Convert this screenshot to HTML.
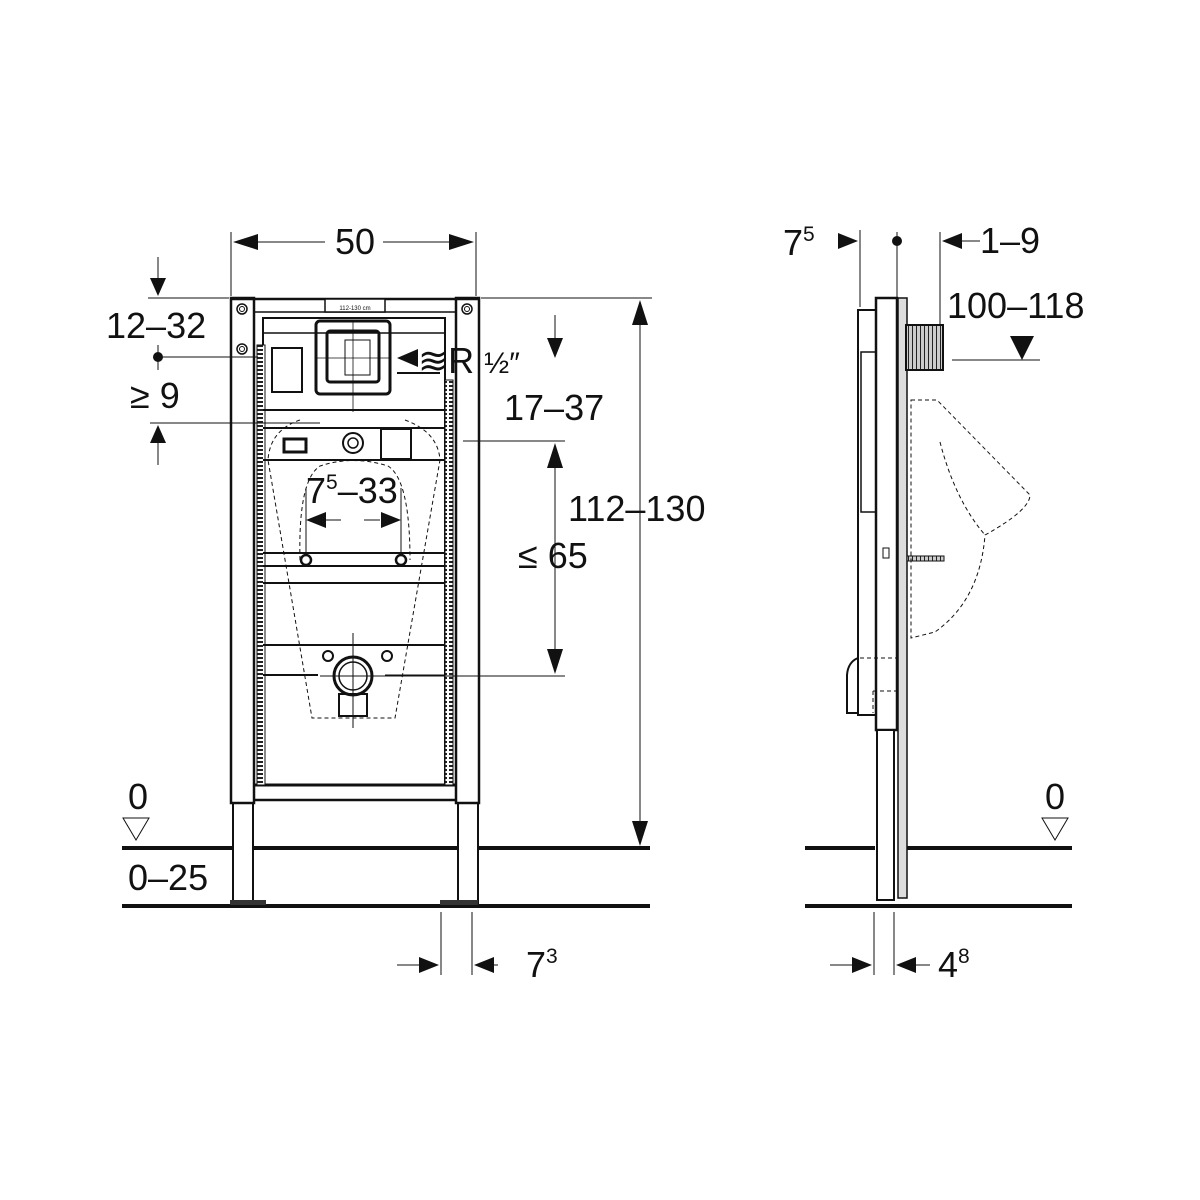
<!DOCTYPE html>
<html><head><meta charset="utf-8"><style>
html,body{margin:0;padding:0;background:#fff}
svg{display:block}
text{font-family:"Liberation Sans",sans-serif;fill:#111}
</style></head><body>
<svg width="1200" height="1200" viewBox="0 0 1200 1200" xmlns="http://www.w3.org/2000/svg">
<defs>
<pattern id="rack" width="8" height="4" patternUnits="userSpaceOnUse"><rect width="8" height="4" fill="#fff"/><rect x="1" y="1" width="6" height="2" fill="#222"/></pattern>
<pattern id="pipe" width="4" height="8" patternUnits="userSpaceOnUse"><rect width="4" height="8" fill="#ccc"/><line x1="0.5" y1="0" x2="0.5" y2="8" stroke="#222" stroke-width="1"/></pattern>
</defs>
<g stroke="#111" fill="none">
<line x1="122" y1="848" x2="650" y2="848" stroke-width="4"/>
<line x1="122" y1="906" x2="650" y2="906" stroke-width="4"/>
<rect x="233" y="800" width="20" height="103" fill="#fff" stroke-width="2"/>
<rect x="458" y="800" width="20" height="103" fill="#fff" stroke-width="2"/>
<rect x="230" y="900" width="36" height="5" fill="#333" stroke="none"/>
<rect x="440" y="900" width="38" height="5" fill="#333" stroke="none"/>
<rect x="231" y="298" width="23" height="505" fill="#fff" stroke-width="2.5"/>
<rect x="456" y="298" width="23" height="505" fill="#fff" stroke-width="2.5"/>
<line x1="254" y1="800" x2="456" y2="800" stroke-width="2.5"/>
<line x1="254" y1="312" x2="456" y2="312" stroke-width="1.5"/>
<line x1="231" y1="299" x2="479" y2="299" stroke-width="2.5"/>
<rect x="325" y="299" width="60" height="13" stroke-width="1.5" fill="#fff"/>
<text x="355" y="310" font-size="6" text-anchor="middle" stroke="none">112-130 cm</text>
<circle cx="242" cy="309" r="5" stroke-width="1.5"/><circle cx="242" cy="309" r="2.5" stroke-width="1"/>
<circle cx="467" cy="309" r="5" stroke-width="1.5"/><circle cx="467" cy="309" r="2.5" stroke-width="1"/>
<circle cx="242" cy="349" r="5" stroke-width="1.5"/><circle cx="242" cy="349" r="2.5" stroke-width="1"/>
<rect x="263" y="318" width="182" height="467" stroke-width="2"/>
<line x1="254" y1="785" x2="456" y2="785" stroke-width="3"/>
<rect x="257" y="345" width="8" height="440" fill="url(#rack)" stroke-width="1"/>
<rect x="445" y="380" width="8" height="405" fill="url(#rack)" stroke-width="1"/>
<line x1="263" y1="333" x2="445" y2="333" stroke-width="1.5"/>
<line x1="263" y1="410" x2="445" y2="410" stroke-width="2"/>
<line x1="263" y1="428" x2="445" y2="428" stroke-width="2"/>
<line x1="263" y1="460" x2="445" y2="460" stroke-width="2"/>
<line x1="263" y1="553" x2="445" y2="553" stroke-width="2"/>
<line x1="263" y1="566" x2="445" y2="566" stroke-width="2"/>
<line x1="263" y1="583" x2="445" y2="583" stroke-width="2"/>
<line x1="263" y1="645" x2="445" y2="645" stroke-width="2"/>
<line x1="263" y1="675" x2="318" y2="675" stroke-width="2"/>
<line x1="385" y1="675" x2="445" y2="675" stroke-width="1"/>
<rect x="272" y="348" width="30" height="44" stroke-width="2"/>
<rect x="284" y="439" width="22" height="13" stroke-width="3"/>
<rect x="381" y="429" width="30" height="30" stroke-width="2"/>
<circle cx="353" cy="443" r="10" stroke-width="2"/><circle cx="353" cy="443" r="5" stroke-width="1.5"/>
<rect x="316" y="321" width="74" height="73" rx="4" stroke-width="3"/>
<rect x="327" y="331" width="52" height="51" rx="3" stroke-width="3"/>
<rect x="345" y="340" width="25" height="35" stroke-width="1"/>
<line x1="353" y1="321" x2="353" y2="412" stroke-width="0.8"/>
<line x1="316" y1="358" x2="390" y2="358" stroke-width="0.8"/>
<path d="M300 420 Q270 430 268 460 L312 718 L395 718 L440 460 Q438 432 405 420" stroke-width="1" stroke-dasharray="4 3"/>
<path d="M300 560 Q298 480 320 466 Q353 455 388 466 Q410 480 410 560" stroke-width="1" stroke-dasharray="4 3"/>
<circle cx="306" cy="560" r="5" stroke-width="2.5"/><circle cx="401" cy="560" r="5" stroke-width="2.5"/>
<circle cx="353" cy="676" r="19" stroke-width="3" fill="#fff"/>
<circle cx="353" cy="676" r="14" stroke-width="1.5"/>
<rect x="339" y="694" width="28" height="22" stroke-width="2"/>
<circle cx="328" cy="656" r="5" stroke-width="2"/><circle cx="387" cy="656" r="5" stroke-width="2"/>
<line x1="353" y1="633" x2="353" y2="728" stroke-width="1"/>
<line x1="320" y1="676" x2="565" y2="676" stroke-width="1"/>
<!-- side view -->
<line x1="805" y1="848" x2="875" y2="848" stroke-width="4"/>
<line x1="905" y1="848" x2="1072" y2="848" stroke-width="4"/>
<line x1="805" y1="906" x2="1072" y2="906" stroke-width="4"/>
<rect x="858" y="310" width="18" height="405" stroke-width="2"/>
<rect x="861" y="352" width="15" height="160" stroke-width="1.5"/>
<rect x="876" y="298" width="21" height="432" fill="#fff" stroke-width="2.5"/>
<rect x="877" y="730" width="17" height="170" fill="#fff" stroke-width="2"/>
<rect x="898" y="298" width="9" height="600" fill="#ddd" stroke-width="1.5"/>
<rect x="906" y="325" width="37" height="45" fill="url(#pipe)" stroke-width="2"/>
<rect x="907" y="556" width="37" height="5" fill="url(#pipe)" stroke-width="1"/>
<rect x="883" y="548" width="6" height="10" stroke-width="1"/>
<path d="M858 658 Q848 662 847 675 L847 713 L858 713" stroke-width="2"/>
<path d="M860 658 L897 658 M873 691 L897 691 M873 691 L873 713" stroke-width="1" stroke-dasharray="4 3"/>
<path d="M911 400 L937 400 L1030 495 Q1030 510 985 535 Q980 600 935 632 L911 638 Z" stroke-width="1" stroke-dasharray="4 3"/>
<path d="M940 442 Q955 500 985 535" stroke-width="1" stroke-dasharray="4 3"/>
<!-- dims front -->
<line x1="231" y1="232" x2="231" y2="296" stroke-width="1"/>
<line x1="476" y1="232" x2="476" y2="296" stroke-width="1"/>
<line x1="250" y1="242" x2="325" y2="242" stroke-width="1"/>
<line x1="383" y1="242" x2="458" y2="242" stroke-width="1"/>
<line x1="148" y1="298" x2="229" y2="298" stroke-width="1"/>
<line x1="158" y1="257" x2="158" y2="282" stroke-width="1"/>
<line x1="158" y1="357" x2="258" y2="357" stroke-width="1"/>
<line x1="158" y1="345" x2="158" y2="370" stroke-width="1"/>
<line x1="150" y1="423" x2="320" y2="423" stroke-width="1"/>
<line x1="158" y1="440" x2="158" y2="465" stroke-width="1"/>
<line x1="481" y1="298" x2="652" y2="298" stroke-width="1"/>
<line x1="640" y1="320" x2="640" y2="828" stroke-width="1"/>
<line x1="555" y1="315" x2="555" y2="340" stroke-width="1"/>
<line x1="397" y1="373" x2="440" y2="373" stroke-width="2"/>
<line x1="463" y1="441" x2="565" y2="441" stroke-width="1"/>
<line x1="555" y1="462" x2="555" y2="655" stroke-width="1"/>
<line x1="306" y1="488" x2="306" y2="555" stroke-width="1"/>
<line x1="401" y1="488" x2="401" y2="555" stroke-width="1"/>
<line x1="325" y1="520" x2="341" y2="520" stroke-width="1"/>
<line x1="364" y1="520" x2="380" y2="520" stroke-width="1"/>
<line x1="441" y1="912" x2="441" y2="975" stroke-width="1"/>
<line x1="472" y1="912" x2="472" y2="975" stroke-width="1"/>
<line x1="397" y1="965" x2="422" y2="965" stroke-width="1"/>
<line x1="492" y1="965" x2="498" y2="965" stroke-width="1"/>
<!-- side dims -->
<line x1="860" y1="230" x2="860" y2="307" stroke-width="1"/>
<line x1="940" y1="232" x2="940" y2="324" stroke-width="1"/>
<line x1="897" y1="232" x2="897" y2="300" stroke-width="1"/>
<line x1="961" y1="241" x2="980" y2="241" stroke-width="1"/>
<line x1="952" y1="360" x2="1040" y2="360" stroke-width="1"/>
<line x1="874" y1="912" x2="874" y2="975" stroke-width="1"/>
<line x1="894" y1="912" x2="894" y2="975" stroke-width="1"/>
<line x1="830" y1="965" x2="855" y2="965" stroke-width="1"/>
<line x1="915" y1="965" x2="930" y2="965" stroke-width="1"/>
<path d="M123 818 L149 818 L136 840 Z" stroke-width="1"/>
<path d="M1042 818 L1068 818 L1055 840 Z" stroke-width="1"/>
</g>
<g fill="#111" stroke="none">
<path d="M233 242 L258 234 L258 250Z"/><path d="M474 242 L449 234 L449 250Z"/>
<path d="M158 296 L150 278 L166 278Z"/>
<path d="M158 425 L150 443 L166 443Z"/>
<path d="M640 300 L632 325 L648 325Z"/><path d="M640 846 L632 821 L648 821Z"/>
<path d="M555 358 L547 338 L563 338Z"/>
<path d="M555 443 L547 468 L563 468Z"/><path d="M555 674 L547 649 L563 649Z"/>
<path d="M306 520 L326 512 L326 528Z"/><path d="M401 520 L381 512 L381 528Z"/>
<path d="M397 358 L418 349 L418 367Z"/>
<path d="M439 965 L419 957 L419 973Z"/><path d="M474 965 L494 957 L494 973Z"/>
<path d="M858 241 L838 233 L838 249Z"/><path d="M942 241 L962 233 L962 249Z"/>
<path d="M1022 360 L1010 336 L1034 336Z"/>
<path d="M872 965 L852 957 L852 973Z"/><path d="M896 965 L916 957 L916 973Z"/>
<circle cx="158" cy="357" r="5"/><circle cx="897" cy="241" r="5"/>
</g>
<g font-size="36">
<text x="355" y="254" text-anchor="middle">50</text>
<text x="106" y="338">12–32</text>
<text x="130" y="408">≥ 9</text>
<text x="504" y="420">17–37</text>
<text x="568" y="521">112–130</text>
<text x="518" y="568">≤ 65</text>
<text x="306" y="503">7<tspan font-size="21" dy="-14">5</tspan><tspan dy="14">–33</tspan></text>
<text x="418" y="373">≋R <tspan font-size="30">½″</tspan></text>
<text x="128" y="809">0</text>
<text x="128" y="890">0–25</text>
<text x="526" y="977">7<tspan font-size="21" dy="-14">3</tspan></text>
<text x="783" y="255">7<tspan font-size="21" dy="-14">5</tspan></text>
<text x="980" y="253">1–9</text>
<text x="947" y="318">100–118</text>
<text x="1045" y="809">0</text>
<text x="938" y="977">4<tspan font-size="21" dy="-14">8</tspan></text>
</g>
</svg>
</body></html>
